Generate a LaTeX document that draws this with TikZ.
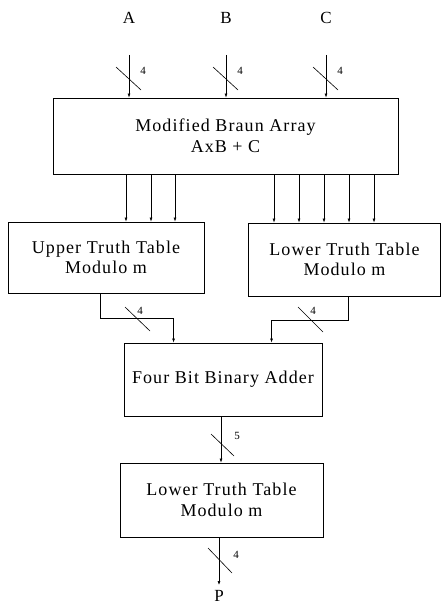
\documentclass[tikz,border=0pt]{standalone}
\usepackage{fontspec}
\setmainfont{Liberation Serif}
\newfontfamily\boxfont[LetterSpace=6]{Liberation Serif}
\usetikzlibrary{arrows.meta,calc}

\tikzset{
  blk/.style={draw, line width=0.9pt, inner sep=0pt, align=center,
              font=\boxfont\fontsize{18}{20.5}\selectfont},
  arr/.style={line width=0.6pt, -{Latex[length=4pt,width=3pt]}},
  slash/.style={line width=0.6pt},
  wlabel/.style={font=\fontsize{11}{12}\selectfont, inner sep=0pt},
  sig/.style={font=\fontsize{17}{18}\selectfont, inner sep=0pt}
}

\begin{document}
\begin{tikzpicture}[x=1pt, y=-1pt]
  \useasboundingbox (0,0) rectangle (443,607);

  % functional blocks
  \node[blk, minimum width=345pt, minimum height=76pt] (braun) at (225.5,136)
    {Modified Braun Array\\AxB + C};
  \node[blk, minimum width=196pt, minimum height=71pt] (upper) at (106,257.5)
    {Upper Truth Table\\Modulo m};
  \node[blk, minimum width=192pt, minimum height=73pt] (lower) at (344.5,259.5)
    {Lower Truth Table\\Modulo m};
  \node[blk, minimum width=198pt, minimum height=73pt] (adder) at (223,379.5)
    {Four Bit Binary Adder};
  \node[blk, minimum width=203pt, minimum height=74pt] (final) at (221.5,500)
    {Lower Truth Table\\Modulo m};

  % operand inputs
  \node[sig] (A) at (129,18) {A};
  \node[sig] (B) at (226,18) {B};
  \node[sig] (C) at (326,18) {C};
  \coordinate (aTop) at (129,55);
  \coordinate (bTop) at (226,55);
  \coordinate (cTop) at (326,55);
  \draw[arr] (aTop) -- (braun.north -| aTop);
  \draw[arr] (bTop) -- (braun.north -| bTop);
  \draw[arr] (cTop) -- (braun.north -| cTop);
  \foreach \p in {aTop,bTop,cTop}{
    \draw[slash] ($(\p)+(-13,12)$) -- ($(\p)+(12,35)$);
    \node[wlabel] at ($(\p)+(14,16)$) {4};
  }

  % product bits into the truth tables
  \foreach \x [count=\i] in {126,151,175}{
    \coordinate (u\i) at (\x,0);
    \draw[arr] (braun.south -| u\i) -- (upper.north -| u\i);
  }
  \foreach \x [count=\i] in {274,299,324,349,374}{
    \coordinate (l\i) at (\x,0);
    \draw[arr] (braun.south -| l\i) -- (lower.north -| l\i);
  }

  % residues into the adder
  \coordinate (ul) at (100,318);
  \coordinate (lr) at (348,320);
  \draw[arr] (upper.south -| ul) -- (ul) -| ($(adder.north west)+(50,0)$);
  \draw[arr] (lower.south -| lr) -- (lr) -| ($(adder.north west)+(148,0)$);
  \draw[slash] (125,307) -- (150,331);
  \node[wlabel] at (140,311) {4};
  \draw[slash] (298,307) -- (323,332);
  \node[wlabel] at (313,311) {4};

  % adder sum into final table
  \coordinate (sx) at (221,0);
  \draw[arr] (adder.south -| sx) -- (final.north -| sx);
  \draw[slash] (211,434) -- (234,456);
  \node[wlabel] at (237,436) {5};

  % result
  \node[sig] (P) at (219,595.5) {P};
  \coordinate (pEnd) at (219,585);
  \draw[arr] (final.south -| pEnd) -- (pEnd);
  \draw[slash] (208,548) -- (232,573);
  \node[wlabel] at (236,555) {4};
\end{tikzpicture}
\end{document}
